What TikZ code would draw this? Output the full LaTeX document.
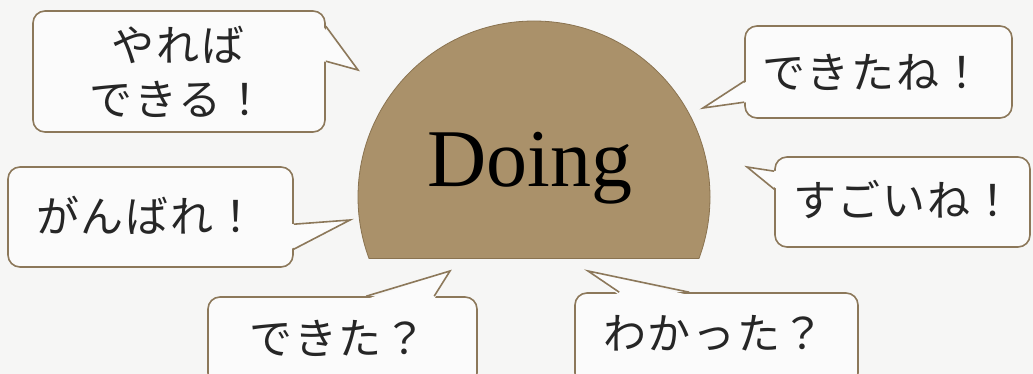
\documentclass[tikz,border=0pt]{standalone}
\usepackage{fontspec}
\newfontfamily\cjk{Noto Sans CJK JP}[LetterSpace=4]
\newfontfamily\doingfont{Liberation Serif}
\usetikzlibrary{calc}
\definecolor{bgcol}{HTML}{F6F6F5}
\definecolor{bubfill}{HTML}{FBFBFB}
\definecolor{bubline}{HTML}{8C785A}
\definecolor{doingfill}{HTML}{AA916A}
\definecolor{doingline}{HTML}{8A7350}
\tikzset{
  bubble/.style={draw=bubline, line width=1.6pt, fill=bubfill, rounded corners=12pt, inner sep=0pt},
  tailfill/.style={fill=bubfill},
  tailline/.style={draw=bubline, line width=1.6pt, line join=miter},
  say/.style={font=\cjk\fontsize{43}{54}\selectfont, text=black!85, align=center, inner sep=0pt}
}
\begin{document}
\begin{tikzpicture}[x=1pt,y=-1pt]
\useasboundingbox (0,0) rectangle (1033,374);
\fill[bgcol] (0,0) rectangle (1033,374);

% central semicircle
\begin{scope}
  \clip (300,-10) rectangle (760,258);
  \fill[doingfill] (534,197) circle[radius=176pt];
  \draw[doingline, line width=0.8pt] (534,197) circle[radius=176pt];
\end{scope}
\draw[doingline, line width=0.8pt] (369,258) -- (699,258);
\node[font=\doingfont\fontsize{82}{90}\selectfont, text=black, inner sep=0pt, anchor=base] (doing) at (530,187) {Doing};

% bubble boxes
\node[bubble, minimum width=292pt, minimum height=121pt] (b1) at (179,71.5) {};
\node[bubble, minimum width=267pt, minimum height=92pt] (b2) at (878.5,72) {};
\node[bubble, minimum width=255pt, minimum height=90pt] (b3) at (902.5,202) {};
\node[bubble, minimum width=285pt, minimum height=100pt] (b4) at (150.5,217) {};
\node[bubble, minimum width=269pt, minimum height=88pt] (b5) at (342.5,341) {};
\node[bubble, minimum width=283pt, minimum height=92pt] (b6) at (716.5,339) {};

% tail tips
\coordinate (t1) at (358,70);
\coordinate (t2) at (703,108);
\coordinate (t3) at (747,167);
\coordinate (t4) at (350,220);
\coordinate (t5) at (450,271);
\coordinate (t6) at (588,271);

% tails
\fill[tailfill] ($(b1.north east)+(-3,16)$) -- (t1) -- ($(b1.north east)+(-3,51)$) -- cycle;
\draw[tailline] ($(b1.north east)+(0,16)$) -- (t1) -- ($(b1.north east)+(0,51)$);

\fill[tailfill] ($(b2.north west)+(3,56)$) -- (t2) -- ($(b2.north west)+(3,77)$) -- cycle;
\draw[tailline] ($(b2.north west)+(0,56)$) -- (t2) -- ($(b2.north west)+(0,77)$);

\fill[tailfill] ($(b3.north west)+(3,15)$) -- (t3) -- ($(b3.north west)+(3,33)$) -- cycle;
\draw[tailline] ($(b3.north west)+(0,15)$) -- (t3) -- ($(b3.north west)+(0,33)$);

\fill[tailfill] ($(b4.north east)+(-3,58)$) -- (t4) -- ($(b4.north east)+(-3,83)$) -- cycle;
\draw[tailline] ($(b4.north east)+(0,58)$) -- (t4) -- ($(b4.north east)+(0,83)$);

\fill[tailfill] ($(b5.north west)+(159,3)$) -- (t5) -- ($(b5.north west)+(227,3)$) -- cycle;
\draw[tailline] ($(b5.north west)+(159,0)$) -- (t5) -- ($(b5.north west)+(227,0)$);

\fill[tailfill] ($(b6.north west)+(45,3)$) -- (t6) -- ($(b6.north west)+(115,3)$) -- cycle;
\draw[tailline] ($(b6.north west)+(45,0)$) -- (t6) -- ($(b6.north west)+(115,0)$);

% texts
\node[say] (s1) at (178,72) {やれば\\できる！};
\node[say] (s2) at (873,72) {できたね！};
\node[say] (s3) at (904,200) {すごいね！};
\node[say] (s4) at (147,215) {がんばれ！};
\node[say] (s5) at (338,338) {できた？};
\node[say] (s6) at (714,333) {わかった？};
\end{tikzpicture}
\end{document}
